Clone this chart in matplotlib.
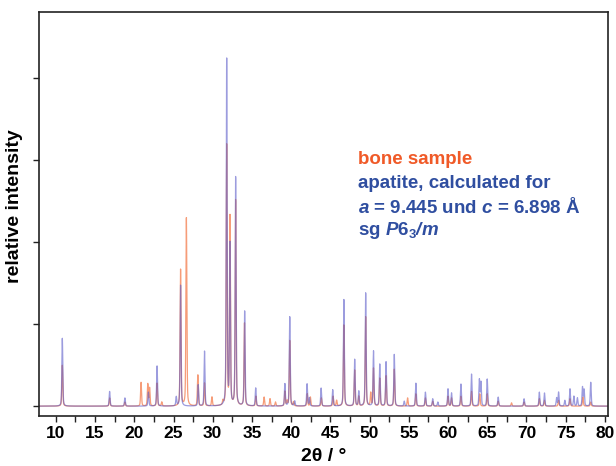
import matplotlib
matplotlib.use("Agg")
import matplotlib.pyplot as plt
from matplotlib.ticker import MultipleLocator, NullFormatter
import numpy as np

plt.rcParams['font.family'] = ['Liberation Sans', 'DejaVu Sans']
plt.rcParams['mathtext.fontset'] = 'custom'
plt.rcParams['mathtext.rm'] = 'Liberation Sans'
plt.rcParams['mathtext.bf'] = 'Liberation Sans:bold'
plt.rcParams['mathtext.it'] = 'Liberation Sans:italic'
plt.rcParams['mathtext.bfit'] = 'Liberation Sans:bold:italic'

# calculated apatite pattern: peak positions (2theta) and heights
calc_pos = [10.82, 16.85, 18.80, 21.80, 22.90, 25.35, 25.90, 28.15, 28.95, 31.78,
            32.20, 32.92, 34.07, 35.48, 39.20, 39.82, 40.45, 42.03, 42.33, 43.82,
            45.30, 46.72, 48.10, 48.62, 49.50, 50.50, 51.30, 52.10, 53.15, 54.42,
            55.90, 57.12, 58.05, 58.70, 60.00, 60.45, 61.65, 63.00, 64.00, 64.20,
            65.00, 66.40, 69.70, 71.65, 72.30, 73.85, 74.10, 74.90, 75.55, 76.05,
            76.50, 77.15, 77.35, 78.20]
calc_int = [83, 18, 10, 17, 49, 11, 148, 26, 67, 422,
            196, 279, 116, 22, 27, 109, 6, 27, 10, 22,
            20, 130, 57, 18, 138, 67, 51, 54, 63, 6,
            28, 17, 9, 5, 21, 16, 27, 39, 32, 29,
            33, 11, 9, 17, 16, 10, 17, 7, 21, 12,
            10, 23, 20, 29]

# bone sample pattern: peak positions and heights
bone_pos = [10.82, 16.85, 18.80, 20.86, 21.72, 21.95, 22.90, 23.50, 25.90, 26.64,
            28.10, 28.95, 29.90, 31.30, 31.78, 32.20, 32.92, 34.05, 35.50, 36.55,
            37.30, 38.00, 39.20, 39.48, 39.82, 40.30, 42.05, 42.45, 43.85, 45.35,
            45.80, 46.72, 48.10, 48.62, 49.50, 50.15, 50.50, 51.30, 52.10, 53.15,
            54.85, 55.90, 57.12, 58.05, 60.00, 60.45, 61.65, 63.00, 64.05, 65.00,
            66.40, 68.10, 69.70, 71.65, 72.30, 74.10, 75.55, 77.20, 78.20]
bone_int = [50, 10, 5, 29, 27, 22, 28, 5, 167, 230,
            38, 28, 11, 5, 317, 230, 251, 101, 12, 11,
            9, 5, 18, 6, 80, 5, 15, 11, 10, 12,
            7, 99, 44, 12, 109, 16, 46, 34, 37, 45,
            10, 15, 10, 6, 12, 10, 12, 18, 15, 15,
            6, 4, 5, 9, 7, 7, 9, 11, 5]


def profile(x, pos, inten, fwhm):
    # pseudo-Voigt peak shapes summed on the grid
    y = np.zeros_like(x)
    g = fwhm / 2.3548
    for p, h in zip(pos, inten):
        d = x - p
        lor = 1.0 / (1.0 + (2 * d / fwhm) ** 2)
        gau = np.exp(-0.5 * (d / g) ** 2)
        y += h * (0.6 * gau + 0.4 * lor)
    return y


x = np.linspace(7.9, 80.4, 6000)
y_calc = profile(x, calc_pos, calc_int, 0.14)
y_bone = profile(x, bone_pos, bone_int, 0.14)

fig = plt.figure(figsize=(6.16, 4.66), dpi=100)
ax = fig.add_axes([0.064, 0.107, 0.923, 0.867])

ax.plot(x, y_bone, color='#f05a1e', lw=0.9, alpha=0.6)
ax.plot(x, y_calc, color='#5a5ac8', lw=0.9, alpha=0.6)

ax.set_xlim(7.9, 80.4)
ax.set_ylim(-12.2, 480.5)
ax.xaxis.set_major_locator(MultipleLocator(5))
ax.xaxis.set_minor_locator(MultipleLocator(2.5))
ax.yaxis.set_major_locator(MultipleLocator(100))
ax.yaxis.set_major_formatter(NullFormatter())
ax.tick_params(axis='both', which='both', direction='out', length=4, width=1, color='#222222')
ax.tick_params(axis='x', labelsize=12.5, pad=3)
for lab in ax.get_xticklabels():
    lab.set_fontweight('bold')
for s in ax.spines.values():
    s.set_linewidth(1.2)
    s.set_color('#222222')

ax.set_xlabel('2θ / °', fontsize=14, fontweight='bold', labelpad=5)
ax.set_ylabel('relative intensity', fontsize=14, fontweight='bold')
ax.yaxis.set_label_coords(-0.029, 0.52)

tx = 0.56
blue = '#2f4ea0'
ax.text(tx, 0.636, 'bone sample', transform=ax.transAxes, color='#f05a28',
        fontsize=13.5, fontweight='bold', va='center')
ax.text(tx, 0.577, 'apatite, calculated for', transform=ax.transAxes, color=blue,
        fontsize=13.5, fontweight='bold', va='center')
ax.text(tx, 0.517, '$\\mathbfit{a}$ = 9.445 und $\\mathbfit{c}$ = 6.898 Å',
        transform=ax.transAxes, color=blue, fontsize=13.5, fontweight='bold', va='center')
ax.text(tx, 0.46, 'sg $\\mathbfit{P}\\mathbf{6}_{\\mathbf{3}}\\mathbfit{/m}$',
        transform=ax.transAxes, color=blue, fontsize=13.5, fontweight='bold', va='center')

fig.savefig('out.png', dpi=100)
